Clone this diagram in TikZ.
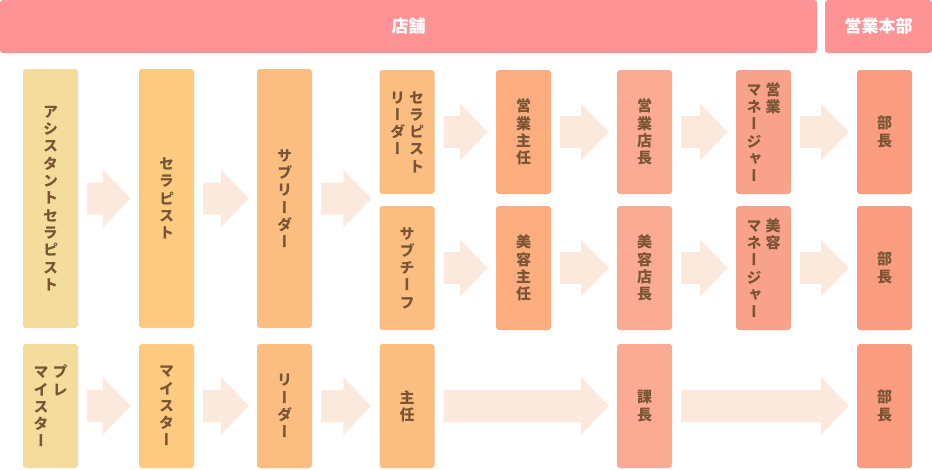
\documentclass[tikz,border=0pt]{standalone}
\usepackage{fontspec}
\newfontfamily\jpfont[RawFeature=+vert]{Noto Sans CJK JP}
\newfontfamily\jphead{Noto Sans CJK JP}
\usetikzlibrary{calc}

\definecolor{headpink}{HTML}{FE9396}
\definecolor{postA}{HTML}{F4DC9C}
\definecolor{postB}{HTML}{FCCA80}
\definecolor{postC}{HTML}{FCBE80}
\definecolor{postD}{HTML}{FCAD80}
\definecolor{postE}{HTML}{FBAA94}
\definecolor{postF}{HTML}{F9A28B}
\definecolor{postG}{HTML}{FA9C80}
\definecolor{arrowpeach}{HTML}{FCE9DD}
\definecolor{txtbrown}{HTML}{7A5535}

% one character per line, top aligned
\ExplSyntaxOn
\NewDocumentCommand \tate { m }
  {
    \vtop { \tl_map_inline:nn {#1} { \hbox_to_wd:nn {1em} { \hss ##1 \hss } } }
  }
\ExplSyntaxOff

% block arrow between two posts, at the height of the first
\newcommand\flowarrow[2]{%
  \fill[arrowfill] let \p1=(#1.east), \p2=(#2.west) in
    (\x1+9pt,\y1+16pt) -- (\x2-36pt,\y1+16pt) -- (\x2-36pt,\y1+29pt) -- (\x2-8pt,\y1)
    -- (\x2-36pt,\y1-29pt) -- (\x2-36pt,\y1-16pt) -- (\x1+9pt,\y1-16pt) -- cycle;}

\tikzset{
  post/.style={rounded corners=3pt, minimum width=55pt, inner sep=0pt, text=txtbrown,
    font=\jpfont\bfseries\fontsize{15}{17.3}\selectfont},
  tall/.style={post, minimum height=259pt},
  half/.style={post, minimum height=124pt},
  header/.style={rounded corners=3pt, fill=headpink, text=white, inner sep=0pt,
    minimum height=53pt, font=\jphead\bfseries\fontsize{17}{20}\selectfont},
  arrowfill/.style={fill=arrowpeach},
}

\begin{document}
\begin{tikzpicture}[x=1pt,y=-1pt]

\useasboundingbox (0,0) rectangle (932,469);

% rows
\def\ytall{198.5}
\def\ytop{132}
\def\ymid{268}
\def\ybot{406}

% header
\node[header, minimum width=817pt] (shop) at (408.5,26.5) {店舗};
\node[header, minimum width=107pt] (hq) at (878.5,26.5) {営業本部};

% posts
\node[tall, fill=postA] (ast) at (50.5,\ytall) {\tate{アシスタントセラピスト}};
\node[tall, fill=postB] (thr) at (166.5,\ytall) {\tate{セラピスト}};
\node[tall, fill=postC] (sub) at (284.5,\ytall) {\tate{サブリーダー}};

\node[half, fill=postC] (thl) at (407,\ytop) {\tate{リーダー}\hspace{4pt}\tate{セラピスト}};
\node[half, fill=postD] (eis) at (523.5,\ytop) {\tate{営業主任}};
\node[half, fill=postE] (eit) at (644.5,\ytop) {\tate{営業店長}};
\node[half, fill=postF] (eim) at (763.5,\ytop) {\tate{マネージャー}\hspace{4pt}\tate{営業}};
\node[half, fill=postG] (eib) at (884.5,\ytop) {\tate{部長}};

\node[half, fill=postC] (chf) at (407,\ymid) {\tate{サブチーフ}};
\node[half, fill=postD] (bis) at (523.5,\ymid) {\tate{美容主任}};
\node[half, fill=postE] (bit) at (644.5,\ymid) {\tate{美容店長}};
\node[half, fill=postF] (bim) at (763.5,\ymid) {\tate{マネージャー}\hspace{4pt}\tate{美容}};
\node[half, fill=postG] (bib) at (884.5,\ymid) {\tate{部長}};

\node[half, fill=postA] (pre) at (50.5,\ybot) {\tate{マイスター}\hspace{4pt}\tate{プレ}};
\node[half, fill=postB] (mei) at (166.5,\ybot) {\tate{マイスター}};
\node[half, fill=postC] (lea) at (284.5,\ybot) {\tate{リーダー}};
\node[half, fill=postC] (shu) at (407,\ybot) {\tate{主任}};
\node[half, fill=postE] (kac) at (644.5,\ybot) {\tate{課長}};
\node[half, fill=postG] (bub) at (884.5,\ybot) {\tate{部長}};

% arrows
\foreach \a/\b in {ast/thr,thr/sub,sub/thl,
                   thl/eis,eis/eit,eit/eim,eim/eib,
                   chf/bis,bis/bit,bit/bim,bim/bib,
                   pre/mei,mei/lea,lea/shu,shu/kac,kac/bub}
  \flowarrow{\a}{\b};

\end{tikzpicture}
\end{document}
